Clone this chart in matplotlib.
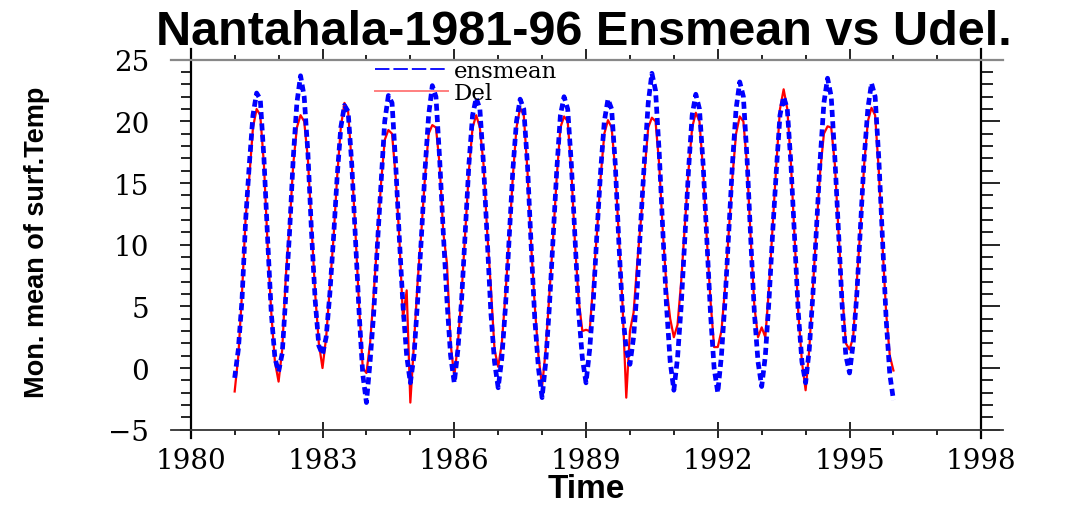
import numpy as np
import matplotlib
matplotlib.use("Agg")
import matplotlib.pyplot as plt
from matplotlib.lines import Line2D

# monthly means, Jan 1981 .. Jan 1996
ensmean = [
    -0.8, 1.5, 5.5, 12.0, 16.5, 20.5, 22.3, 21.8, 17.0, 10.5, 4.5, 0.8,     # 1981
    -0.3, 1.2, 6.0, 11.0, 17.0, 21.5, 23.7, 22.0, 17.5, 11.0, 5.5, 1.8,     # 1982
    1.1, 2.5, 6.0, 10.5, 15.5, 19.5, 21.3, 20.8, 16.5, 10.5, 4.5, -0.5,     # 1983
    -2.8, 0.5, 4.5, 10.0, 15.0, 20.0, 22.1, 21.5, 16.5, 10.5, 5.0, 1.0,     # 1984
    -1.2, 1.0, 5.5, 10.5, 16.0, 20.5, 22.9, 22.0, 17.0, 11.0, 5.5, 1.0,     # 1985
    -1.2, 1.5, 5.5, 11.0, 16.5, 20.5, 21.9, 21.0, 16.5, 10.5, 4.5, 0.5,     # 1986
    -1.6, 0.8, 5.0, 10.5, 16.0, 20.0, 21.8, 21.0, 16.5, 10.0, 4.0, 0.0,     # 1987
    -2.4, 0.5, 5.0, 10.5, 16.0, 20.5, 22.0, 21.0, 16.5, 10.5, 4.5, 0.8,     # 1988
    -1.2, 1.5, 5.5, 11.0, 16.0, 20.0, 21.8, 21.0, 16.5, 10.0, 4.5, 1.5,     # 1989
    0.3, 2.5, 6.5, 12.0, 17.0, 21.5, 23.9, 22.5, 17.5, 11.0, 5.0, 0.5,      # 1990
    -1.8, 0.8, 5.0, 10.5, 16.0, 20.5, 22.2, 21.0, 16.5, 10.5, 4.5, 0.0,     # 1991
    -2.0, 1.0, 5.5, 11.0, 16.5, 21.0, 23.2, 22.0, 17.0, 10.5, 4.5, 0.5,     # 1992
    -1.5, 1.0, 5.5, 11.0, 16.0, 20.5, 22.0, 21.0, 16.5, 10.5, 4.5, 0.5,     # 1993
    -1.2, 1.5, 6.0, 11.5, 17.0, 21.5, 23.5, 22.0, 17.0, 11.0, 5.0, 1.0,     # 1994
    -0.4, 2.0, 6.0, 11.5, 17.0, 21.0, 23.1, 22.0, 17.0, 10.5, 4.0, -0.5,    # 1995
    -2.6,                                                                   # 1996
]
udel = [
    -1.9, 1.0, 6.0, 12.2, 15.5, 19.5, 21.0, 20.5, 16.5, 10.0, 4.5, 0.5,     # 1981
    -1.1, 1.5, 7.5, 11.5, 16.5, 19.5, 20.5, 20.0, 17.0, 11.5, 6.0, 2.0,     # 1982
    0.0, 2.5, 6.5, 10.5, 15.5, 19.5, 21.5, 20.8, 16.5, 11.0, 5.0, 0.0,      # 1983
    -0.4, 2.0, 6.0, 10.5, 15.0, 18.5, 19.3, 19.0, 15.5, 10.5, 4.0, 6.3,     # 1984
    -2.8, 2.0, 7.0, 11.0, 15.5, 19.0, 19.7, 19.5, 16.5, 11.0, 8.5, 2.0,     # 1985
    -0.7, 2.0, 6.0, 11.0, 16.0, 19.5, 20.5, 19.5, 16.5, 11.0, 6.5, 1.5,     # 1986
    0.1, 2.0, 6.0, 10.5, 15.5, 19.5, 21.1, 20.5, 16.0, 10.0, 5.0, 1.0,      # 1987
    -1.5, 1.5, 6.0, 10.5, 15.5, 19.5, 20.4, 20.0, 16.0, 10.0, 5.5, 3.0,     # 1988
    3.1, 3.0, 7.0, 11.0, 15.5, 19.0, 20.1, 19.5, 16.0, 10.5, 5.0, -2.4,     # 1989
    3.0, 4.5, 8.5, 12.0, 16.0, 19.5, 20.3, 20.0, 16.5, 11.0, 6.5, 4.0,      # 1990
    2.5, 3.5, 7.0, 11.5, 16.0, 19.5, 20.7, 20.0, 16.0, 10.5, 5.5, 1.7,      # 1991
    1.7, 3.0, 6.5, 11.0, 15.5, 19.0, 20.4, 20.0, 16.5, 10.5, 5.0, 2.5,      # 1992
    3.3, 2.5, 6.5, 11.5, 16.5, 21.0, 22.6, 21.0, 16.5, 10.5, 4.5, 0.5,      # 1993
    -1.8, 1.5, 6.5, 11.5, 16.0, 19.0, 19.6, 19.5, 16.5, 11.0, 6.0, 2.0,     # 1994
    1.5, 2.5, 7.0, 11.5, 16.5, 20.0, 21.1, 20.5, 16.0, 10.0, 4.5, 1.0,      # 1995
    -0.2,                                                                   # 1996
]
start_year = 1981
x_ticks = [1980, 1983, 1986, 1989, 1992, 1995, 1998]
y_ticks = [-5, 0, 5, 10, 15, 20, 25]

time = start_year + np.arange(len(ensmean)) / 12.0

fig = plt.figure(figsize=(10.68, 5.06), dpi=100)
ax = fig.add_axes([0.1786, 0.1488, 0.7402, 0.7312])

ax.plot(time, udel, color="red", lw=1.6, zorder=2)
ax.plot(time, ensmean, color="blue", lw=3.4, dashes=(1.5, 0.9), zorder=3)

ax.set_xlim(1980, 1998)
ax.set_ylim(-5, 25)
ax.set_xticks(x_ticks)
ax.set_xticks(np.arange(1980, 1999), minor=True)
ax.set_yticks(y_ticks)
ax.set_yticks(np.arange(-5, 26), minor=True)

serif = "DejaVu Serif"
for lab in ax.get_xticklabels() + ax.get_yticklabels():
    lab.set_family(serif)
    lab.set_fontsize(20)

# bottom / left ticks
ax.tick_params(axis="x", which="major", direction="inout", length=11, width=1.2,
               pad=7, top=False)
ax.tick_params(axis="x", which="minor", direction="out", length=3.5, width=1.2, top=False)
ax.tick_params(axis="y", which="major", direction="out", length=8, width=1.2,
               pad=22, right=False)
ax.tick_params(axis="y", which="minor", direction="out", length=7.5, width=1.2, right=False)

# top / right ticks
sx = ax.secondary_xaxis("top")
sx.set_xticks(x_ticks)
sx.set_xticks(np.arange(1980, 1999), minor=True)
sx.tick_params(which="major", direction="out", length=8, width=1.2, labeltop=False)
sx.tick_params(which="minor", direction="out", length=3.8, width=1.2)
sx.spines["top"].set_visible(False)

sy = ax.secondary_yaxis("right")
sy.set_yticks(y_ticks)
sy.set_yticks(np.arange(-5, 26), minor=True)
sy.tick_params(which="major", direction="out", length=14, width=1.2, labelright=False)
sy.tick_params(which="minor", direction="out", length=8.6, width=1.2)
sy.spines["right"].set_visible(False)

# frame lines run a little past the corners
ax.spines["top"].set_bounds(1979.54, 1998.5)
ax.spines["bottom"].set_bounds(1979.54, 1998.5)
ax.spines["left"].set_bounds(-5.7, 25.85)
ax.spines["right"].set_bounds(-5.7, 25.85)
ax.spines["top"].set_color("#888888")
ax.spines["top"].set_linewidth(1.6)
ax.spines["bottom"].set_color("#333333")
ax.spines["bottom"].set_linewidth(1.3)
ax.spines["left"].set_linewidth(1.6)
ax.spines["right"].set_linewidth(1.6)

handles = [
    Line2D([], [], color="blue", lw=1.3, dashes=(8, 2.2)),
    Line2D([], [], color="#ff7f7f", lw=1.4),
]
ax.legend(handles, ["ensmean", "Del"], loc="upper left",
          bbox_to_anchor=(0.233, 1.0), frameon=False, borderpad=0,
          borderaxespad=0, handlelength=3.2, handletextpad=0.25,
          labelspacing=0.0, prop={"family": serif, "size": 16.5})

ax.set_xlabel("Time", fontsize=24, fontweight="bold", family="Liberation Sans")
ax.xaxis.set_label_coords(0.5, -0.118)
ax.set_ylabel("Mon. mean of surf.Temp", fontsize=19.5, fontweight="bold",
              family="Liberation Sans")
ax.yaxis.set_label_coords(-0.178, 0.51)

fig.text(0.547, 0.912, "Nantahala-1981-96 Ensmean vs Udel.", ha="center",
         va="baseline", fontsize=35, fontweight="bold", family="Liberation Sans")

fig.savefig("out.png", dpi=100)
